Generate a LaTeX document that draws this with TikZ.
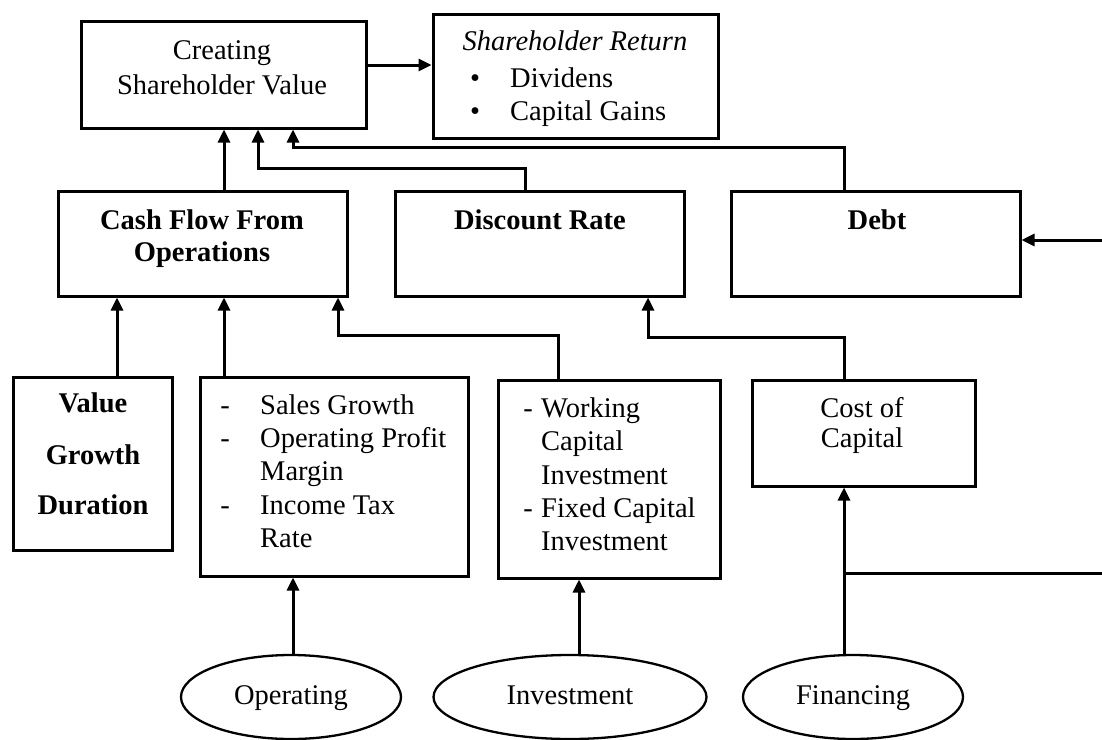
\documentclass[tikz,border=0pt]{standalone}
\usepackage{fontspec}
\setmainfont{Liberation Serif}
\usetikzlibrary{arrows.meta,shapes.geometric}
\begin{document}
\begin{tikzpicture}[x=1pt,y=-1pt,
  box/.style={draw=black, line width=3pt, rectangle, inner sep=0pt},
  oval/.style={draw=black, line width=2.3pt, ellipse, inner sep=0pt,
    text height=20pt, text depth=6pt, font=\fontsize{28.5}{34}\selectfont},
  txt/.style={inner sep=0pt, text height=20pt, text depth=6pt,
    font=\fontsize{28.5}{34}\selectfont},
  btxt/.style={txt, font=\fontsize{28.5}{34}\selectfont\bfseries},
  itxt/.style={txt, font=\fontsize{28.5}{34}\selectfont\itshape},
  link/.style={line width=3pt, -{Triangle[length=13pt,width=12pt]}}]

\useasboundingbox (0,0) rectangle (1102,739);
\clip (0,0) rectangle (1102,739);

% ---- boxes ----
\node[box, minimum width=285pt, minimum height=107pt] (csv)   at (223.5,74.5) {};
\node[box, minimum width=285pt, minimum height=124pt] (sr)    at (575.5,76)   {};
\node[box, minimum width=289pt, minimum height=105pt] (cfo)   at (202.5,243.5) {};
\node[box, minimum width=289pt, minimum height=105pt] (dr)    at (539.5,243.5) {};
\node[box, minimum width=289pt, minimum height=105pt] (debt)  at (875.5,243.5) {};
\node[box, minimum width=159pt, minimum height=173pt] (vgd)   at (92.5,463.5) {};
\node[box, minimum width=268pt, minimum height=199pt] (sales) at (334,476.5)  {};
\node[box, minimum width=222pt, minimum height=198pt] (wc)    at (609,479)    {};
\node[box, minimum width=223pt, minimum height=106pt] (coc)   at (863.5,433)  {};

% ---- activities ----
\node[oval, minimum width=220pt, minimum height=84pt] (op)  at (291,697) {Operating};
\node[oval, minimum width=273pt, minimum height=84pt] (inv) at (570,697) {Investment};
\node[oval, minimum width=220pt, minimum height=84pt] (fin) at (853,697) {Financing};

% ---- box texts ----
\node[txt] (csv1) at (222,52) {Creating};
\node[txt] (csv2) at (222,87) {Shareholder Value};

\node[itxt] (sr0) at (575,43) {Shareholder Return};
\node[txt, anchor=west] (srb1) at (470,80)  {•};
\node[txt, anchor=west] (sr1)  at (510,80)  {Dividens};
\node[txt, anchor=west] (srb2) at (470,113) {•};
\node[txt, anchor=west] (sr2)  at (510,113) {Capital Gains};

\node[btxt] (cfo1) at (202,222) {Cash Flow From};
\node[btxt] (cfo2) at (202,254) {Operations};
\node[btxt] (dr1)  at (540,222) {Discount Rate};
\node[btxt] (db1)  at (877,222) {Debt};

\node[btxt] (vg1) at (93,405) {Value};
\node[btxt] (vg2) at (93,457) {Growth};
\node[btxt] (vg3) at (93,507) {Duration};

\node[txt] (sd1) at (225,407) {-};
\node[txt, anchor=west] (sl1) at (260,407) {Sales Growth};
\node[txt] (sd2) at (225,440) {-};
\node[txt, anchor=west] (sl2) at (260,440) {Operating Profit};
\node[txt, anchor=west] (sl3) at (260,473) {Margin};
\node[txt] (sd3) at (225,507) {-};
\node[txt, anchor=west] (sl4) at (260,507) {Income Tax};
\node[txt, anchor=west] (sl5) at (260,540) {Rate};

\node[txt] (wd1) at (528,410) {-};
\node[txt, anchor=west] (wl1) at (541,410) {Working};
\node[txt, anchor=west] (wl2) at (541,443) {Capital};
\node[txt, anchor=west] (wl3) at (541,477) {Investment};
\node[txt] (wd2) at (528,510) {-};
\node[txt, anchor=west] (wl4) at (541,510) {Fixed Capital};
\node[txt, anchor=west] (wl5) at (541,543) {Investment};

\node[txt] (cc1) at (862,410) {Cost of};
\node[txt] (cc2) at (862,440) {Capital};

% ---- connector lanes ----
\coordinate (x117) at (117,0);
\coordinate (x224) at (224,0);
\coordinate (x258) at (258,0);
\coordinate (x293) at (293,0);
\coordinate (x338) at (338,0);
\coordinate (x525) at (525,0);
\coordinate (x558) at (558,0);
\coordinate (x579) at (579,0);
\coordinate (x648) at (648,0);
\coordinate (x844) at (844,0);
\coordinate (x1115) at (1115,0);
\coordinate (h65)  at (0,65);
\coordinate (h147) at (0,147);
\coordinate (h168) at (0,168);
\coordinate (h240) at (0,240);
\coordinate (h335) at (0,335);
\coordinate (h337) at (0,337);
\coordinate (h573) at (0,573);

% ---- connectors ----
\draw[link] (csv.east |- h65) -- (sr.west |- h65);

\draw[link] (cfo.north -| x224) -- (csv.south -| x224);
\draw[link] (dr.north -| x525) -- (x525 |- h168) -| (csv.south -| x258);
\draw[link] (debt.north -| x844) -- (x844 |- h147) -| (csv.south -| x293);

\draw[link] (vgd.north -| x117) -- (cfo.south -| x117);
\draw[link] (sales.north -| x224) -- (cfo.south -| x224);
\draw[link] (wc.north -| x558) -- (x558 |- h335) -| (cfo.south -| x338);
\draw[link] (coc.north -| x844) -- (x844 |- h337) -| (dr.south -| x648);

\draw[link] (op.north -| x293) -- (sales.south -| x293);
\draw[link] (inv.north -| x579) -- (wc.south -| x579);
\draw[link] (fin.north -| x844) -- (coc.south -| x844);
\draw[link] (x844 |- h573) -- (x1115 |- h573) |- (debt.east |- h240);
\end{tikzpicture}
\end{document}
